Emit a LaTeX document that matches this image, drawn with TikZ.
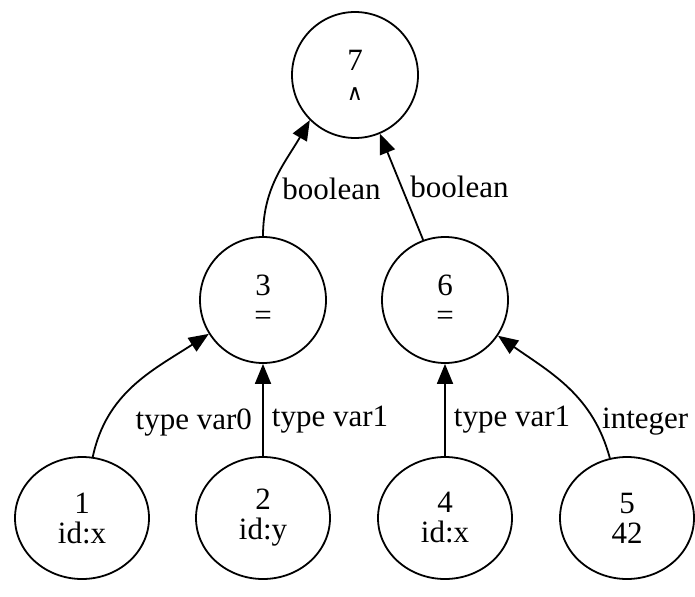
\documentclass[tikz,border=0pt]{standalone}
\usepackage{fontspec}
\setmainfont{Liberation Serif}
\newfontfamily\opsymfont{DejaVu Serif}
\usepackage{amsmath}
\usetikzlibrary{arrows.meta}
\usetikzlibrary{positioning, shapes.geometric}

\begin{document}
\begin{tikzpicture}[
        font=\fontsize{15.5}{15}\selectfont,
        on grid,
        opnode/.style={draw, circle, align=center, line width=0.9pt, minimum size=63pt, inner sep=0pt},
        leafnode/.style={draw, ellipse, align=center, line width=0.9pt, minimum width=67pt, minimum height=61pt, inner sep=0pt},
        link/.style={line width=0.9pt, -{Triangle[length=10pt,width=8pt]}},
        elabel/.style={anchor=west, inner sep=2pt}
    ]
    \useasboundingbox (0,0) rectangle (347.5pt,298pt);

    % operators
    \node[opnode] (n7) at (177.5pt,260.5pt) {7\\{\opsymfont\fontsize{11}{11}\selectfont ∧}};
    \node[opnode, below left=112.5pt and 46pt of n7] (n3) {3\\=};
    \node[opnode, below right=112.5pt and 45pt of n7] (n6) {6\\=};

    % leaves
    \node[leafnode, below left=109pt and 90.5pt of n3] (n1) {1\\id:x};
    \node[leafnode, below=109pt of n3] (n2) {2\\id:y};
    \node[leafnode, below=109pt of n6] (n4) {4\\id:x};
    \node[leafnode, below right=109pt and 91pt of n6] (n5) {5\\42};

    % typed edges, child to parent
    \draw[link] (n3.north) to[out=90, in=240] node[elabel, pos=0.38, xshift=3pt] {boolean} (n7.225);
    \draw[link] (n6.110) -- node[elabel, pos=0.5, xshift=2pt] {boolean} (n7.293);
    \draw[link] (n1.80) to[out=78, in=213] node[elabel, pos=0.2, xshift=13pt] {type var0} (n3.212);
    \draw[link] (n2) -- node[elabel, pos=0.4, xshift=2pt] {type var1} (n3);
    \draw[link] (n4) -- node[elabel, pos=0.4, xshift=2pt] {type var1} (n6);
    \draw[link] (n5.106) to[out=105, in=325] node[elabel, pos=0.22, xshift=1pt] {integer} (n6.326);
\end{tikzpicture}
\end{document}
